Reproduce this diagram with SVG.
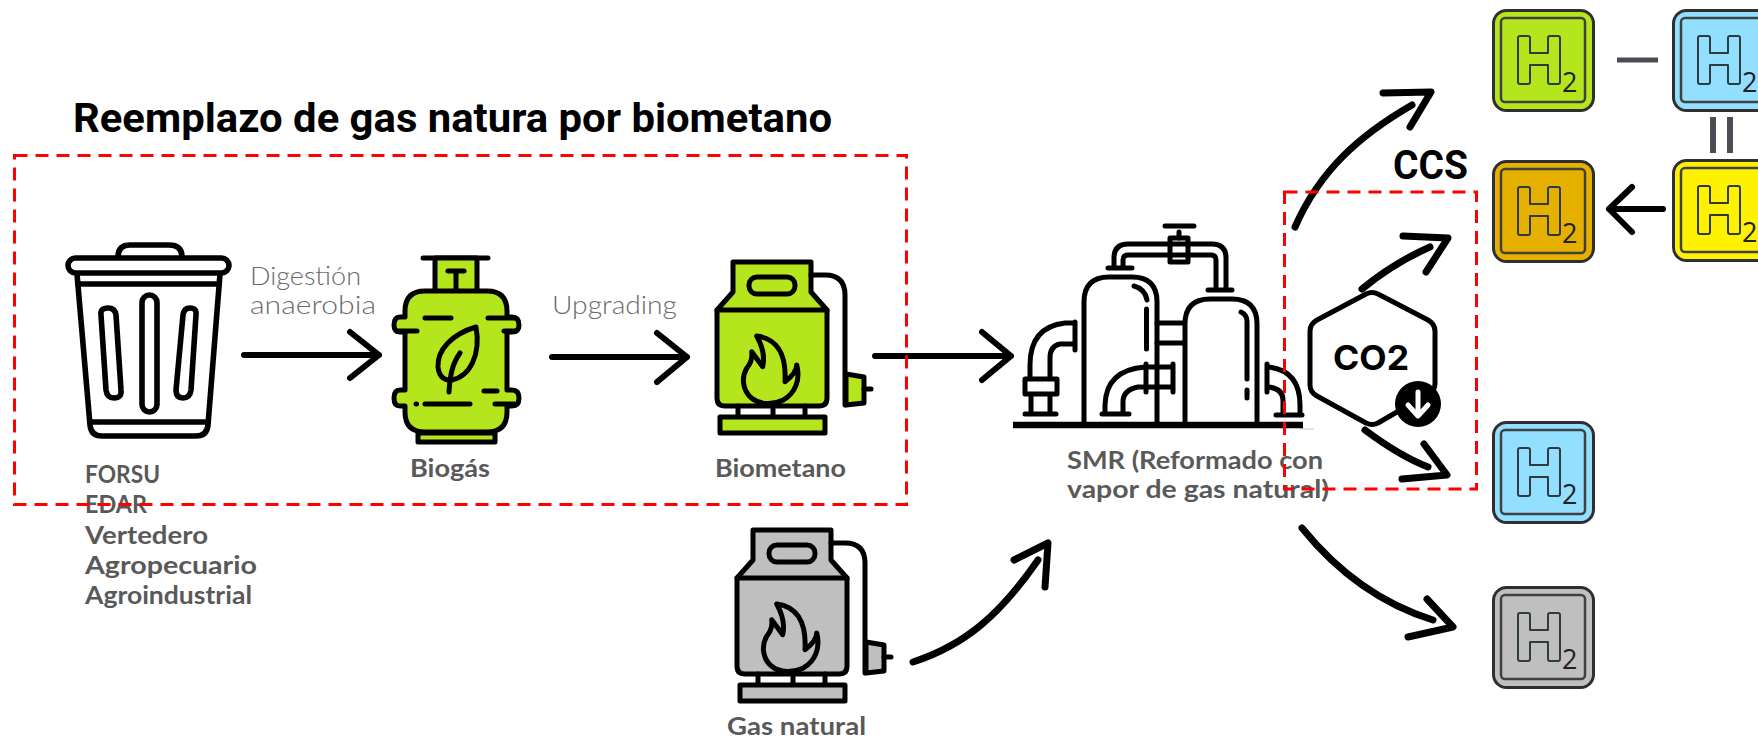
<svg xmlns="http://www.w3.org/2000/svg" width="1758" height="740" viewBox="0 0 1758 740">
  <style>
    .ink { fill: none; stroke: #000; stroke-width: 5; stroke-linecap: round; stroke-linejoin: round; }
    .thick { stroke-width: 5.6; }
    .dot { stroke-width: 5; }
    .solid { stroke: #000; stroke-width: 5; stroke-linecap: round; stroke-linejoin: round; }
    .arrow { fill: none; stroke: #000; stroke-width: 6; stroke-linecap: round; stroke-linejoin: round; }
    .arrow.big { stroke-width: 7; }
    .area { fill: none; stroke: #ff0000; stroke-width: 3; stroke-dasharray: 13 8; }
    .label { font-family: "Lato", "Liberation Sans", sans-serif; font-weight: 700; font-size: 25px; fill: #595959; }
    .step { font-family: "Lato", "Liberation Sans", sans-serif; font-weight: 300; font-size: 25px; fill: #6b6b6b; }
    .head { font-family: "Roboto", "Liberation Sans", sans-serif; font-weight: 700; fill: #000; }
    .tile { stroke: #2f2f2f; stroke-width: 3; }
    .tile-in { fill: none; stroke: #404040; stroke-width: 2.5; }
    .h { fill: none; stroke: #2f3b3f; stroke-width: 2; stroke-linejoin: round; }
    .sub { font-family: "Open Sans", "Liberation Sans", sans-serif; font-size: 27px; fill: #222; }
    .sign { stroke: #4a4e54; stroke-width: 6; fill: none; }
    .minus { stroke-width: 5; }
  </style>
  <defs>
    <!-- gas tank; body colour comes from the referencing use -->
    <g id="tank">
      <path class="solid" d="M733 262H811V292L827 310V398Q827 406 819 406H725Q717 406 717 398V310L733 292Z"/>
      <path class="ink" d="M717 310H827"/>
      <rect class="solid" x="749" y="277" width="46" height="17" rx="8"/>
      <path class="ink" d="M738 406V417M773 406V417M805 406V417"/>
      <rect class="solid" x="720" y="417" width="105" height="16"/>
      <path class="ink" d="M811 275H825Q845 275 845 295V405"/>
      <path class="solid" d="M846 374L864 377V403L846 405Z"/>
      <path class="ink" d="M864 389H871"/>
      <path class="ink" d="M756.7 336C775 338.3 786.7 351.7 785 381.7C791.7 376.7 796.7 370 796.7 365C800.7 380 795 393.3 783.3 400C773.3 405 760 405 751.7 398.3C741.7 390 741.7 376.7 746.7 368.3C750.7 363.3 752.7 358.3 751.7 351.7L762.7 366.7C765 356.7 761.7 345 756.7 336Z"/>
    </g>
    <!-- hydrogen tile; background colour comes from the referencing use -->
    <g id="h2">
      <rect class="tile" x="1.5" y="1.5" width="100" height="100" rx="13"/>
      <rect class="tile-in" x="9" y="9" width="84" height="84" rx="4"/>
      <path class="h" d="M28 27H36Q38 27 38 29V44H56V29Q56 27 58 27H66Q68 27 68 29V73Q68 75 66 75H58Q56 75 56 73V56H38V73Q38 75 36 75H28Q26 75 26 73V29Q26 27 28 27Z"/>
      <text class="sub" x="70" y="83">2</text>
    </g>
  </defs>

  <text id="title" class="head" x="73" y="132" font-size="40" textLength="759" lengthAdjust="spacingAndGlyphs">Reemplazo de gas natura por biometano</text>

  <g id="residuos">
    <path class="ink thick" d="M118 257Q118 245 130 245H169Q182 245 182 257"/>
    <rect class="ink thick" x="68" y="258" width="161" height="15" rx="7.5"/>
    <path class="ink thick" d="M77 274L90 425Q91 436 102 436H196Q207 436 208 425L220 274"/>
    <path class="ink thick" d="M78 284H219M90 422H208"/>
    <rect class="ink thick" x="142" y="295" width="15" height="117" rx="7.5"/>
    <path class="ink thick" d="M101 315Q100 308 108 308Q115 308 116 315L121 390Q122 398 114 398Q107 398 106 390Z"/>
    <path class="ink thick" d="M183 315Q184 308 190 308Q197 308 196 315L191 390Q190 398 183 398Q176 398 176 390Z"/>
    <text class="label"><tspan x="85" y="483" textLength="75" lengthAdjust="spacingAndGlyphs">FORSU</tspan><tspan x="85" y="513" textLength="62" lengthAdjust="spacingAndGlyphs">EDAR</tspan><tspan x="85" y="544" textLength="123" lengthAdjust="spacingAndGlyphs">Vertedero</tspan><tspan x="85" y="574" textLength="172" lengthAdjust="spacingAndGlyphs">Agropecuario</tspan><tspan x="85" y="604" textLength="167" lengthAdjust="spacingAndGlyphs">Agroindustrial</tspan></text>
  </g>

  <g id="biogas">
    <path class="ink" d="M423 258H488"/>
    <path class="solid" fill="#b5e61d" d="M435 258H477V292H435Z"/>
    <path class="solid" fill="#b5e61d" d="M425 291H487Q507 291 507 311V317H512Q519 317 519 325Q519 332 512 332H507V390H512Q519 390 519 398Q519 406 512 406H507V412Q507 432 487 432H425Q405 432 405 412V406H400Q394 406 394 398Q394 390 400 390H405V332H400Q394 332 394 325Q394 317 400 317H405V311Q405 291 425 291Z"/>
    <path class="solid" fill="#b5e61d" d="M418 433H495V442H418Z"/>
    <path class="ink" d="M448 271H464M456 271V290"/>
    <path class="ink" d="M425 318H451M488 318H515M397 331H417M504 331H516M484 391H497M425 404H470M495 404H514"/>
    <path class="ink dot" d="M416 404H416.500"/>
    <path class="ink" d="M476 327C452 334 437 350 438 367C439 378 446 381 452 380C470 376 481 355 476 327Z"/>
    <path class="ink" d="M449 392C450 376 452 364 460 353"/>
    <text class="label" x="410" y="477" textLength="80" lengthAdjust="spacingAndGlyphs">Biogás</text>
  </g>

  <g id="biometano">
    <use href="#tank" fill="#b5e61d"/>
    <text class="label" x="715" y="477" textLength="131" lengthAdjust="spacingAndGlyphs">Biometano</text>
  </g>

  <g id="gas-natural">
    <use href="#tank" x="20" y="268" fill="#bfbfbf"/>
    <text class="label" x="727" y="735" textLength="139" lengthAdjust="spacingAndGlyphs">Gas natural</text>
  </g>

  <g id="smr">
    <path d="M1300 429H1314" stroke="#d9d9d9" stroke-width="1.5"/>
    <path d="M1013 425H1303" stroke="#000" stroke-width="6.5"/>
    <path class="ink" d="M1084 422V302Q1084 277 1109 277H1132Q1157 277 1157 302V422"/>
    <path class="ink" d="M1185 422V324Q1185 299 1210 299H1232Q1257 299 1257 324V422"/>
    <path class="ink" d="M1157 323H1184M1157 343H1184"/>
    <path class="ink" d="M1108 268H1132M1208 290H1232"/>
    <path class="ink" d="M1114 266V258Q1114 244 1128 244H1212Q1226 244 1226 258V288M1123 266V260Q1123 255 1128 255H1211Q1216 255 1216 260V288"/>
    <rect class="ink" x="1170" y="238" width="18" height="24"/>
    <path class="ink" d="M1165 226H1194M1179 232V238"/>
    <path class="ink" d="M1075 322V350M1073 323H1065Q1030 327 1030 365V377M1073 344H1060Q1050 346 1050 358V377"/>
    <rect class="ink" x="1025" y="379" width="32" height="15"/>
    <path class="ink" d="M1031 395V413M1050 395V413M1025 414H1056"/>
    <path class="ink" d="M1173 364V392M1171 367H1145Q1106 370 1105 405V413M1171 387H1138Q1123 390 1123 402V413M1102 414H1129M1146 364V392"/>
    <path class="ink" d="M1134 286Q1145 289 1147 300M1146.500 309V349"/>
    <path class="ink" d="M1241 312Q1247 315 1247 321V379M1247 390V398"/>
    <path class="ink" d="M1267 364V392M1269 367Q1300 371 1300 405V413M1269 387Q1283 389 1283 400V413M1276 415H1302"/>
    <text class="label" x="1067" y="469" textLength="256" lengthAdjust="spacingAndGlyphs">SMR (Reformado con</text>
    <text class="label" x="1067" y="498" textLength="262" lengthAdjust="spacingAndGlyphs">vapor de gas natural)</text>
  </g>

  <g id="co2">
    <path class="ink" d="M1366 294Q1372 291 1378 294L1428 320Q1435 324 1435 331V384Q1435 390 1428 394L1378 423Q1372 426 1366 423L1317 396Q1310 392 1310 385V331Q1310 324 1317 320Z"/>
    <text x="1333" y="370" font-family="Inter, 'Liberation Sans', sans-serif" font-weight="700" font-size="34" textLength="76" lengthAdjust="spacingAndGlyphs">CO2</text>
    <circle cx="1418" cy="404" r="23" fill="#000"/>
    <path d="M1418 392V415M1408 405L1418 416L1428 405" fill="none" stroke="#fff" stroke-width="5" stroke-linecap="round" stroke-linejoin="round"/>
  </g>

  <g id="h2-verde"><use href="#h2" x="1492" y="9" fill="#b5e61d"/></g>
  <g id="h2-azul"><use href="#h2" x="1672" y="9" fill="#92dfff"/></g>
  <g id="h2-amarillo"><use href="#h2" x="1672" y="159" fill="#fff200"/></g>
  <g id="h2-naranja"><use href="#h2" x="1492" y="160" fill="#e5b000"/></g>
  <g id="h2-azul-ccs"><use href="#h2" x="1492" y="421" fill="#92dfff"/></g>
  <g id="h2-gris"><use href="#h2" x="1492" y="586" fill="#bfbfbf"/></g>

  <text id="ccs" class="head" x="1393" y="179" font-size="40" textLength="75" lengthAdjust="spacingAndGlyphs">CCS</text>

  <g id="connectors">
    <path class="arrow" d="M244 355H379M350 332L379 355L350 378"/>
    <path class="arrow" d="M552 357H687M657 333L687 357L657 382"/>
    <path class="arrow" d="M875 356H1011M982 332L1011 356L982 380"/>
    <path class="arrow big" d="M913 662C965 645 1000 615 1038 560M1014 560L1048 543L1045 587"/>
    <path class="arrow big" d="M1295 227C1320 170 1360 135 1412 105M1383 93L1431 92L1410 127"/>
    <path class="arrow big" d="M1362 289C1385 270 1405 258 1430 247M1403 236L1448 238L1426 272"/>
    <path class="arrow big" d="M1365 430C1385 445 1405 458 1428 467M1424 444L1447 475L1402 479"/>
    <path class="arrow big" d="M1302 528C1340 575 1385 605 1433 620M1427 599L1453 627L1408 637"/>
    <path class="arrow" d="M1663 209H1609M1632 187L1609 209L1632 232"/>
    <path class="sign minus" d="M1617 60H1658"/>
    <path class="sign" d="M1713 117V153M1730 117V153"/>
  </g>

  <text class="step"><tspan x="250" y="285" textLength="111" lengthAdjust="spacingAndGlyphs">Digestión</tspan><tspan x="250" y="314" textLength="126" lengthAdjust="spacingAndGlyphs">anaerobia</tspan></text>
  <text class="step" x="552" y="314" textLength="125" lengthAdjust="spacingAndGlyphs">Upgrading</text>

  <rect id="zona-biometano" class="area" x="14.5" y="155.5" width="892" height="349"/>
  <rect id="zona-ccs" class="area" x="1284.5" y="192" width="192" height="297"/>
</svg>
